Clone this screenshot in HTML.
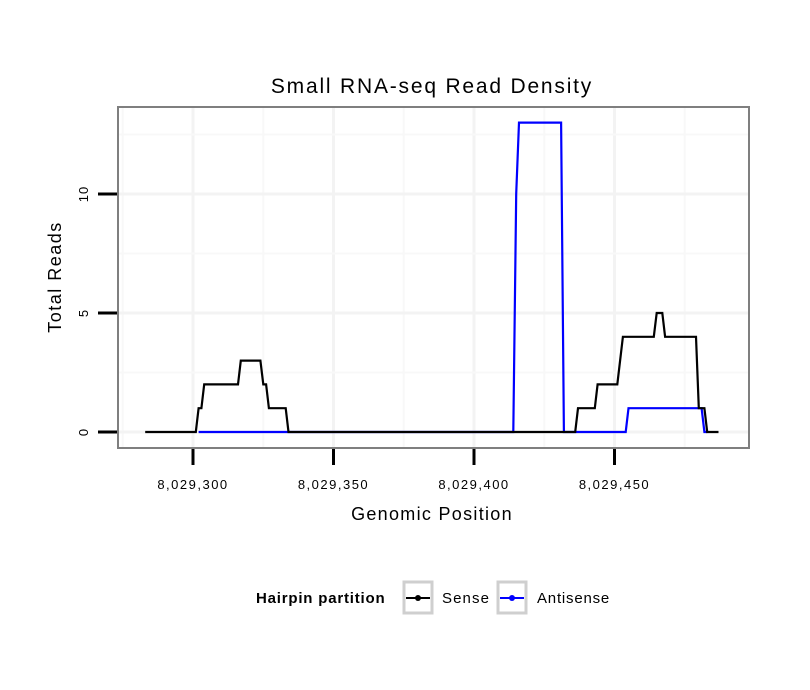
<!DOCTYPE html>
<html><head><meta charset="utf-8"><style>
html,body{margin:0;padding:0;background:#fff;}
svg{display:block;font-family:"Liberation Sans",sans-serif;}
</style></head><body>
<svg id="chart" width="810" height="690" viewBox="0 0 810 690">
<rect width="810" height="690" fill="#fff"/>
<text x="432" y="93" text-anchor="middle" font-size="21" letter-spacing="1.8">Small RNA-seq Read Density</text>
<g id="grid"></g>
<g id="series"></g>
<rect x="118" y="107" width="631" height="341" fill="none" stroke="#7f7f7f" stroke-width="2"/>
<g id="xaxis"></g>
<g id="yaxis"></g>
<text x="432" y="520" text-anchor="middle" font-size="18" letter-spacing="1.3">Genomic Position</text>
<text transform="translate(61,277) rotate(-90)" text-anchor="middle" font-size="18" letter-spacing="1.5">Total Reads</text>
<g>
<text x="256" y="603" font-size="15" font-weight="bold" letter-spacing="0.8">Hairpin partition</text>
<g>
<rect x="404" y="582" width="28" height="31" fill="#fff" stroke="#cfcfcf" stroke-width="3"/>
<line x1="406" y1="598" x2="430" y2="598" stroke="#000" stroke-width="2"/>
<circle cx="418" cy="598" r="3" fill="#000"/>
<text x="442" y="603" font-size="15" letter-spacing="1.1">Sense</text>
</g>
<g>
<rect x="498" y="582" width="28" height="31" fill="#fff" stroke="#cfcfcf" stroke-width="3"/>
<line x1="500" y1="598" x2="524" y2="598" stroke="#00f" stroke-width="2"/>
<circle cx="512" cy="598" r="3" fill="#00f"/>
<text x="537" y="603" font-size="15" letter-spacing="0.8">Antisense</text>
</g>
</g>
</svg>
<script>
const senseOffsets = [283,301,302,303,304,316,317,324,325,326,327,333,334,436,437,443,444,451,453,464,465,467,468,479,480,482,483,487];
const senseValues  = [0,0,1,1,2,2,3,3,2,2,1,1,0,0,1,1,2,2,4,4,5,5,4,4,1,1,0,0];
const antiOffsets  = [302,414,415,416,431,432,454,455,481,482,483];
const antiValues   = [0,0,10,13,13,0,0,1,1,0,0];
const xTicks = [8029300,8029350,8029400,8029450];
const xTickLabels = ["8,029,300","8,029,350","8,029,400","8,029,450"];
const yTicks = [0,5,10];
const BASE = 8029000;
const NS = "http://www.w3.org/2000/svg";
function xs(p){return 193 + (p - 8029300) * 2.81;}
function ys(v){return 432 - v * 23.8;}
function mk(tag, attrs, parent){const e=document.createElementNS(NS,tag);for(const k in attrs)e.setAttribute(k,attrs[k]);parent.appendChild(e);return e;}
const grid=document.getElementById('grid'), ser=document.getElementById('series');
const xa=document.getElementById('xaxis'), ya=document.getElementById('yaxis');
for(let p=8029275;p<=8029500;p+=25){const x=xs(p);if(x<119||x>748)continue;
 const l=mk('line',{x1:x,x2:x,y1:108,y2:447,stroke:(p%50===0)?'#f3f3f3':'#f8f8f8','stroke-width':(p%50===0)?3:2},grid);
 
 }
for(let v=-2.5;v<=15;v+=2.5){const y=ys(v);if(y<108||y>447)continue;
 const l=mk('line',{x1:119,x2:748,y1:y,y2:y,stroke:(v%5===0)?'#f3f3f3':'#f8f8f8','stroke-width':(v%5===0)?3:2},grid);
 
 }
function drawLine(offs, vals, color, name){
 const d=offs.map((o,i)=>(i?'L':'M')+xs(BASE+o).toFixed(1)+','+ys(vals[i]).toFixed(1)).join(' ');
 const p=mk('path',{d:d,fill:'none',stroke:color,'stroke-width':2.2,'stroke-linejoin':'miter'},ser);
 
 }
drawLine(antiOffsets, antiValues, '#0000ff', 'antisense-line');
drawLine(senseOffsets, senseValues, '#000000', 'sense-line');
xTicks.forEach((t,i)=>{const x=xs(t);
 const l=mk('line',{x1:x,x2:x,y1:449,y2:465,stroke:'#000','stroke-width':3},xa);
 
 
 const tx=mk('text',{x:x,y:489,'text-anchor':'middle','font-size':13,'letter-spacing':1.5},xa);tx.textContent=xTickLabels[i];
 
 });
yTicks.forEach(t=>{const y=ys(t);
 const l=mk('line',{x1:98,x2:117,y1:y,y2:y,stroke:'#000','stroke-width':3},ya);
 
 
 const tx=mk('text',{transform:'translate(88,'+y+') rotate(-90)','text-anchor':'middle','font-size':13,'letter-spacing':1},ya);tx.textContent=String(t);
 
 });
</script>
</body></html>
